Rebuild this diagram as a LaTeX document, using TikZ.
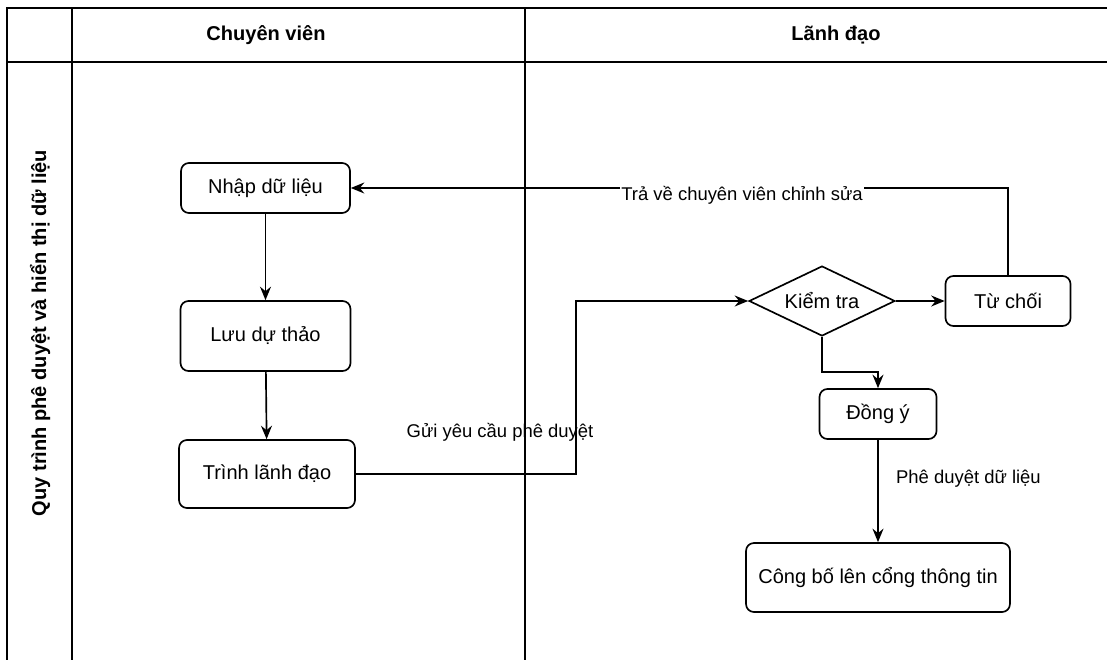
\documentclass[tikz,border=0pt]{standalone}
\usepackage{fontspec}
\setmainfont{Liberation Sans}
\usetikzlibrary{arrows.meta, shapes.geometric, calc, positioning}
\tikzset{
    laneLine/.style={line width=1pt},
    stepBox/.style={rectangle, draw, fill=white, rounded corners=4.5pt, line width=0.95pt, inner sep=0pt, font=\fontsize{11.4}{13}\selectfont},
    checkBox/.style={diamond, draw, fill=white, aspect=2, line width=0.95pt, inner sep=1pt, minimum width=2.92cm, minimum height=1.4cm, font=\fontsize{11.4}{13}\selectfont},
    flowEdge/.style={-{Stealth[length=2.7mm, width=2.2mm, inset=0.9mm]}, line width=0.95pt},
    flowLabel/.style={inner sep=1pt, font=\fontsize{10.5}{12}\selectfont},
    headLabel/.style={font=\fontsize{11.4}{13}\selectfont\bfseries},
}

\begin{document}
\begin{tikzpicture}[x=0.02cm, y=-0.02cm]

        \useasboundingbox (0,0) rectangle (1107,660);

        % pool and lanes
        \draw[laneLine] (7,660) -- (7,8) -- (1107,8);
        \draw[laneLine] (7,62) -- (1107,62);
        \draw[laneLine] (72,8) -- (72,660);
        \draw[laneLine] (525,8) -- (525,660);

        \node[headLabel] (headCv) at (266,35) {Chuyên viên};
        \node[headLabel] (headLd) at (836,35) {Lãnh đạo};
        \node[headLabel, rotate=90] (poolTitle) at (40,333) {Quy trình phê duyệt và hiển thị dữ liệu};

        % steps
        \node[stepBox, minimum width=3.38cm, minimum height=1cm] (nhap) at (265.5,188) {Nhập dữ liệu};
        \node[stepBox, minimum width=3.4cm, minimum height=1.4cm] (luu) at (265.5,336) {Lưu dự thảo};
        \node[stepBox, minimum width=3.52cm, minimum height=1.36cm] (trinh) at (267,474) {Trình lãnh đạo};
        \node[checkBox] (kiem) at (822,301) {Kiểm tra};
        \node[stepBox, minimum width=2.5cm, minimum height=1cm] (tuchoi) at (1008,301) {Từ chối};
        \node[stepBox, minimum width=2.34cm, minimum height=1cm] (dongy) at (878,414) {Đồng ý};
        \node[stepBox, minimum width=5.28cm, minimum height=1.38cm] (congbo) at (878,577.5) {Công bố lên cổng thông tin};

        \coordinate (sendTurn) at (576,301);
        \coordinate (okTurn) at (822,372);

        % flows
        \draw[flowEdge] (nhap) -- (luu);
        \draw[flowEdge] (luu) -- (trinh);
        \draw[flowEdge] (trinh.east) -| (sendTurn) -- (kiem.west);
        \draw[flowEdge] (kiem.east) -- (tuchoi.west);
        \draw[flowEdge] (kiem.south) -- (okTurn) -| (dongy.north);
        \draw[flowEdge] (dongy) -- (congbo);
        \draw[flowEdge] (tuchoi.north) |- (nhap.east);

        \node[flowLabel] (sendLbl) at (500,432) {Gửi yêu cầu phê duyệt};
        \node[flowLabel, anchor=west] (pubLbl) at (894,479) {Phê duyệt dữ liệu};
        \node[flowLabel, fill=white] (backLbl) at (742,195) {Trả về chuyên viên chỉnh sửa};

    \end{tikzpicture}
\end{document}
